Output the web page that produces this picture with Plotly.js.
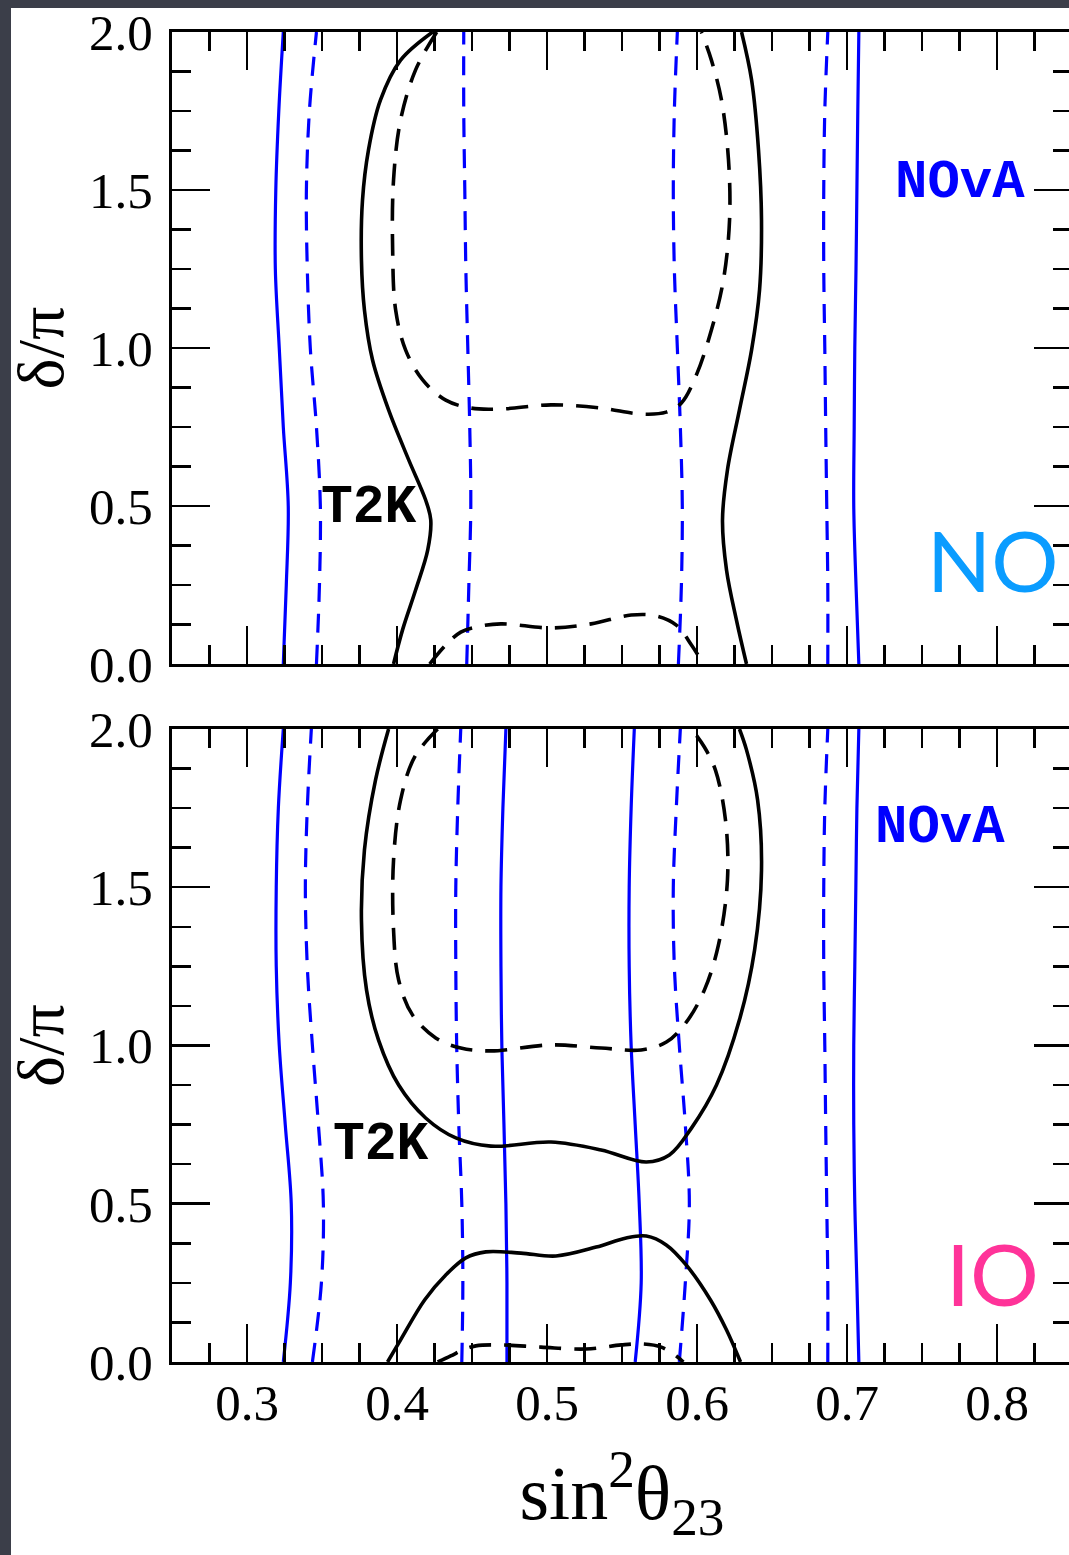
<!DOCTYPE html>
<html>
<head>
<meta charset="utf-8">
<script src="https://cdn.plot.ly/plotly-3.0.1.min.js"></script>
<style>
  html, body { margin: 0; padding: 0; overflow: hidden; background: #3b3e49; width: 1069px; height: 1555px; }
  #chart { position: absolute; left: 0; top: 0; width: 1080px; height: 1555px; }
</style>
</head>
<body>
<div id="chart"></div>
<script>
// delta/pi sampling used for the nearly vertical NOvA contours
const deltaGrid = [0, 0.25, 0.5, 0.75, 1.0, 1.25, 1.5, 1.75, 2.0];

// ---------- Normal ordering (NO) ----------
// NOvA 90% CL (solid) edges
const novaNO90Left  = [0.3242, 0.3262, 0.3275, 0.3242, 0.3215, 0.3189, 0.3192, 0.3212, 0.3242];
const novaNO90Right = [0.7079, 0.7060, 0.7045, 0.7048, 0.7052, 0.7060, 0.7066, 0.7072, 0.7079];
// NOvA 68% CL (dashed) edges
const novaNO68a = [0.3463, 0.3483, 0.3489, 0.3463, 0.3422, 0.3402, 0.3396, 0.3416, 0.3463];
const novaNO68b = [0.4465, 0.4479, 0.4492, 0.4485, 0.4472, 0.4459, 0.4452, 0.4445, 0.4445];
const novaNO68c = [0.5876, 0.5896, 0.5902, 0.5889, 0.5869, 0.5849, 0.5842, 0.5849, 0.5869];
const novaNO68d = [0.6872, 0.6872, 0.6865, 0.6858, 0.6852, 0.6845, 0.6845, 0.6852, 0.6872];

// T2K 90% CL (solid), left and right edges
const t2kNO90LeftX  = [0.3977, 0.4037, 0.4124, 0.4205, 0.4225, 0.4191, 0.4078, 0.3944, 0.3837, 0.3783, 0.3763, 0.3770, 0.3810, 0.3890, 0.4024, 0.4238];
const t2kNO90LeftD  = [0.0, 0.108, 0.234, 0.361, 0.456, 0.519, 0.646, 0.804, 0.962, 1.120, 1.278, 1.468, 1.627, 1.785, 1.911, 2.0];
const t2kNO90RightX = [0.6330, 0.6263, 0.6197, 0.6170, 0.6203, 0.6283, 0.6364, 0.6417, 0.6430, 0.6410, 0.6364, 0.6297];
const t2kNO90RightD = [0.0, 0.139, 0.297, 0.456, 0.614, 0.804, 0.994, 1.184, 1.405, 1.627, 1.848, 2.0];
// T2K 68% CL (dashed): upper lobe and the piece wrapping through delta = 0
const t2kNO68UpX = [0.4265, 0.4124, 0.4024, 0.3977, 0.3971, 0.3991, 0.4057, 0.4171, 0.4325, 0.4492, 0.4693, 0.5027, 0.5361, 0.5628, 0.5795, 0.5896, 0.5996, 0.6096, 0.6176, 0.6217, 0.6210, 0.6163, 0.6096, 0.6029];
const t2kNO68UpD = [2.0, 1.880, 1.722, 1.532, 1.310, 1.120, 0.994, 0.899, 0.835, 0.810, 0.807, 0.820, 0.810, 0.791, 0.797, 0.826, 0.915, 1.057, 1.215, 1.405, 1.595, 1.785, 1.911, 2.0];
const t2kNO68LowX = [0.4218, 0.4325, 0.4425, 0.4525, 0.4693, 0.5027, 0.5294, 0.5561, 0.5729, 0.5862, 0.5963, 0.6043];
const t2kNO68LowD = [0.0, 0.060, 0.101, 0.117, 0.127, 0.114, 0.127, 0.155, 0.152, 0.123, 0.060, 0.0];

// ---------- Inverted ordering (IO) ----------
const novaIO90a = [0.3242, 0.3289, 0.3295, 0.3255, 0.3215, 0.3195, 0.3195, 0.3209, 0.3242];
const novaIO90b = [0.4733, 0.4733, 0.4726, 0.4713, 0.4699, 0.4693, 0.4693, 0.4706, 0.4726];
const novaIO90c = [0.5588, 0.5628, 0.5615, 0.5588, 0.5561, 0.5548, 0.5548, 0.5561, 0.5582];
const novaIO90d = [0.7079, 0.7066, 0.7052, 0.7045, 0.7045, 0.7052, 0.7059, 0.7066, 0.7079];
const novaIO68a = [0.3436, 0.3496, 0.3509, 0.3476, 0.3436, 0.3402, 0.3389, 0.3402, 0.3429];
const novaIO68b = [0.4432, 0.4439, 0.4432, 0.4412, 0.4398, 0.4392, 0.4392, 0.4405, 0.4425];
const novaIO68c = [0.5882, 0.5922, 0.5949, 0.5922, 0.5882, 0.5849, 0.5842, 0.5862, 0.5889];
const novaIO68d = [0.6872, 0.6872, 0.6865, 0.6858, 0.6852, 0.6845, 0.6845, 0.6852, 0.6872];

const t2kIO90UpX = [0.3944, 0.3857, 0.3783, 0.3763, 0.3797, 0.3877, 0.4011, 0.4191, 0.4392, 0.4626, 0.5027, 0.5361, 0.5662, 0.5816, 0.5963, 0.6130, 0.6283, 0.6384, 0.6430, 0.6404, 0.6330, 0.6283];
const t2kIO90UpD = [2.0, 1.839, 1.618, 1.396, 1.175, 1.017, 0.875, 0.771, 0.708, 0.682, 0.695, 0.670, 0.632, 0.654, 0.739, 0.875, 1.081, 1.302, 1.554, 1.776, 1.934, 2.0];
const t2kIO90LowX = [0.3937, 0.4024, 0.4184, 0.4325, 0.4459, 0.4592, 0.4826, 0.5060, 0.5328, 0.5528, 0.5662, 0.5795, 0.5929, 0.6090, 0.6197, 0.6290];
const t2kIO90LowD = [0.0, 0.070, 0.196, 0.275, 0.329, 0.348, 0.344, 0.335, 0.363, 0.392, 0.398, 0.370, 0.306, 0.196, 0.101, 0.0];
const t2kIO68UpX = [0.4271, 0.4118, 0.4024, 0.3977, 0.3977, 0.4011, 0.4104, 0.4258, 0.4425, 0.4626, 0.5027, 0.5361, 0.5628, 0.5796, 0.5929, 0.6049, 0.6143, 0.6203, 0.6190, 0.6123, 0.6049, 0.5963];
const t2kIO68UpD = [2.0, 1.912, 1.776, 1.586, 1.365, 1.207, 1.096, 1.024, 0.992, 0.983, 1.002, 0.992, 0.986, 1.011, 1.074, 1.175, 1.318, 1.523, 1.712, 1.870, 1.943, 2.0];
const t2kIO68LowX = [0.4271, 0.4358, 0.4438, 0.4525, 0.4693, 0.4960, 0.5261, 0.5495, 0.5642, 0.5762, 0.5862, 0.5909];
const t2kIO68LowD = [0.0, 0.019, 0.038, 0.051, 0.054, 0.047, 0.041, 0.054, 0.057, 0.047, 0.019, 0.0];

// tick labels
const xTickVals = [0.3, 0.4, 0.5, 0.6, 0.7, 0.8];
const xTickText = ['0.3', '0.4', '0.5', '0.6', '0.7', '0.8'];
const yTickVals = [0, 0.5, 1.0, 1.5, 2.0];
const yTickText = ['0.0', '0.5', '1.0', '1.5', '2.0'];

const BLUE = '#0000ff';
const BLACK = '#000000';
const blueSolid = {color: BLUE, width: 3.2, shape: 'spline', smoothing: 1};
const blueDash  = {color: BLUE, width: 3.2, shape: 'spline', smoothing: 1, dash: '19px,12px'};
const blackSolid = {color: BLACK, width: 3.6, shape: 'spline', smoothing: 1};
const blackDash  = {color: BLACK, width: 3.6, shape: 'spline', smoothing: 1, dash: '22px,13px'};

function curve(x, y, line, top) {
  return {type: 'scatter', mode: 'lines', x: x, y: y, line: line,
          xaxis: top ? 'x2' : 'x', yaxis: top ? 'y2' : 'y',
          hoverinfo: 'skip', showlegend: false};
}

const traces = [
  // NO panel (top)
  curve(novaNO90Left,  deltaGrid, blueSolid, true),
  curve(novaNO90Right, deltaGrid, blueSolid, true),
  curve(novaNO68a, deltaGrid, blueDash, true),
  curve(novaNO68b, deltaGrid, blueDash, true),
  curve(novaNO68c, deltaGrid, blueDash, true),
  curve(novaNO68d, deltaGrid, blueDash, true),
  curve(t2kNO90LeftX, t2kNO90LeftD, blackSolid, true),
  curve(t2kNO90RightX, t2kNO90RightD, blackSolid, true),
  curve(t2kNO68UpX, t2kNO68UpD, blackDash, true),
  curve(t2kNO68LowX, t2kNO68LowD, blackDash, true),
  // IO panel (bottom)
  curve(novaIO90a, deltaGrid, blueSolid, false),
  curve(novaIO90b, deltaGrid, blueSolid, false),
  curve(novaIO90c, deltaGrid, blueSolid, false),
  curve(novaIO90d, deltaGrid, blueSolid, false),
  curve(novaIO68a, deltaGrid, blueDash, false),
  curve(novaIO68b, deltaGrid, blueDash, false),
  curve(novaIO68c, deltaGrid, blueDash, false),
  curve(novaIO68d, deltaGrid, blueDash, false),
  curve(t2kIO90UpX, t2kIO90UpD, blackSolid, false),
  curve(t2kIO90LowX, t2kIO90LowD, blackSolid, false),
  curve(t2kIO68UpX, t2kIO68UpD, blackDash, false),
  curve(t2kIO68LowX, t2kIO68LowD, blackDash, false)
];

const SERIF = '"Liberation Serif", "Times New Roman", Times, serif';
const MONO = '"Courier New", "Liberation Mono", monospace';
const tickFont = {family: SERIF, size: 51, color: BLACK};

function xAxis(extra) {
  return Object.assign({
    range: [0.25, 0.85], tickmode: 'array', tickvals: xTickVals, ticktext: xTickText,
    ticks: 'inside', ticklen: 38, tickwidth: 2.5, tickcolor: BLACK,
    minor: {dtick: 0.025, tick0: 0, ticks: 'inside', ticklen: 19, tickwidth: 2.5, tickcolor: BLACK},
    showline: true, linecolor: BLACK, linewidth: 3, mirror: 'allticks',
    showgrid: false, zeroline: false, tickfont: tickFont, ticklabelstandoff: -6,
    fixedrange: true
  }, extra);
}
function yAxis(extra) {
  return Object.assign({
    range: [0, 2], tickmode: 'array', tickvals: yTickVals, ticktext: yTickText,
    ticks: 'inside', ticklen: 38, tickwidth: 2.5, tickcolor: BLACK,
    minor: {dtick: 0.125, tick0: 0, ticks: 'inside', ticklen: 19, tickwidth: 2.5, tickcolor: BLACK},
    showline: true, linecolor: BLACK, linewidth: 3, mirror: 'allticks',
    showgrid: false, zeroline: false, tickfont: tickFont, ticklabelstandoff: 6,
    ticklabeloverflow: 'allow', fixedrange: true,
    title: {text: 'δ/π', font: {family: SERIF, size: 66, color: BLACK}, standoff: 4}
  }, extra);
}

const labelFont = (size, color) => ({family: MONO, size: size, color: color});

// page sheet: white card on the dark slide background
const PLOT_W = 900, PLOT_H = 1330, M_L = 172, M_T = 32, M_B = 193;

const layout = {
  width: 1080, height: 1555,
  margin: {l: M_L, r: 8, t: M_T, b: M_B},
  paper_bgcolor: '#3b3e49', plot_bgcolor: '#ffffff',
  showlegend: false,
  shapes: [{
    type: 'rect', xref: 'paper', yref: 'paper', layer: 'below',
    x0: (11 - M_L) / PLOT_W, x1: 1.05,
    y0: -M_B / PLOT_H, y1: 1 + (M_T - 8) / PLOT_H,
    fillcolor: '#ffffff', line: {width: 0}
  }],
  xaxis: xAxis({anchor: 'y', domain: [0, 1],
    title: {text: 'sin<sup>2</sup>θ<sub>23</sub>', font: {family: SERIF, size: 76, color: BLACK}, standoff: 36}}),
  xaxis2: xAxis({anchor: 'y2', domain: [0, 1], matches: 'x', showticklabels: false}),
  yaxis: yAxis({anchor: 'x', domain: [0, 0.47594]}),
  yaxis2: yAxis({anchor: 'x2', domain: [0.52481, 1]}),
  annotations: [
    {xref: 'x2', yref: 'y2', x: 0.7754, y: 1.525, text: '<b>NOvA</b>', showarrow: false, font: labelFont(54, BLUE)},
    {xref: 'x2', yref: 'y2', x: 0.381, y: 0.494, text: '<b>T2K</b>', showarrow: false, font: labelFont(53, BLACK)},
    {xref: 'x2', yref: 'y2', x: 0.797, y: 0.33, text: 'NO', showarrow: false,
     font: {family: 'Lato, "Noto Sans", sans-serif', size: 84, color: '#0a9cff'}},
    {xref: 'x', yref: 'y', x: 0.762, y: 1.690, text: '<b>NOvA</b>', showarrow: false, font: labelFont(54, BLUE)},
    {xref: 'x', yref: 'y', x: 0.389, y: 0.686, text: '<b>T2K</b>', showarrow: false, font: labelFont(53, BLACK)},
    {xref: 'x', yref: 'y', x: 0.797, y: 0.284, text: 'IO', showarrow: false,
     font: {family: 'Lato, "Noto Sans", sans-serif', size: 86, color: '#ff3399'}}
  ]
};

Plotly.newPlot('chart', traces, layout, {staticPlot: true, displayModeBar: false});
</script>
</body>
</html>
